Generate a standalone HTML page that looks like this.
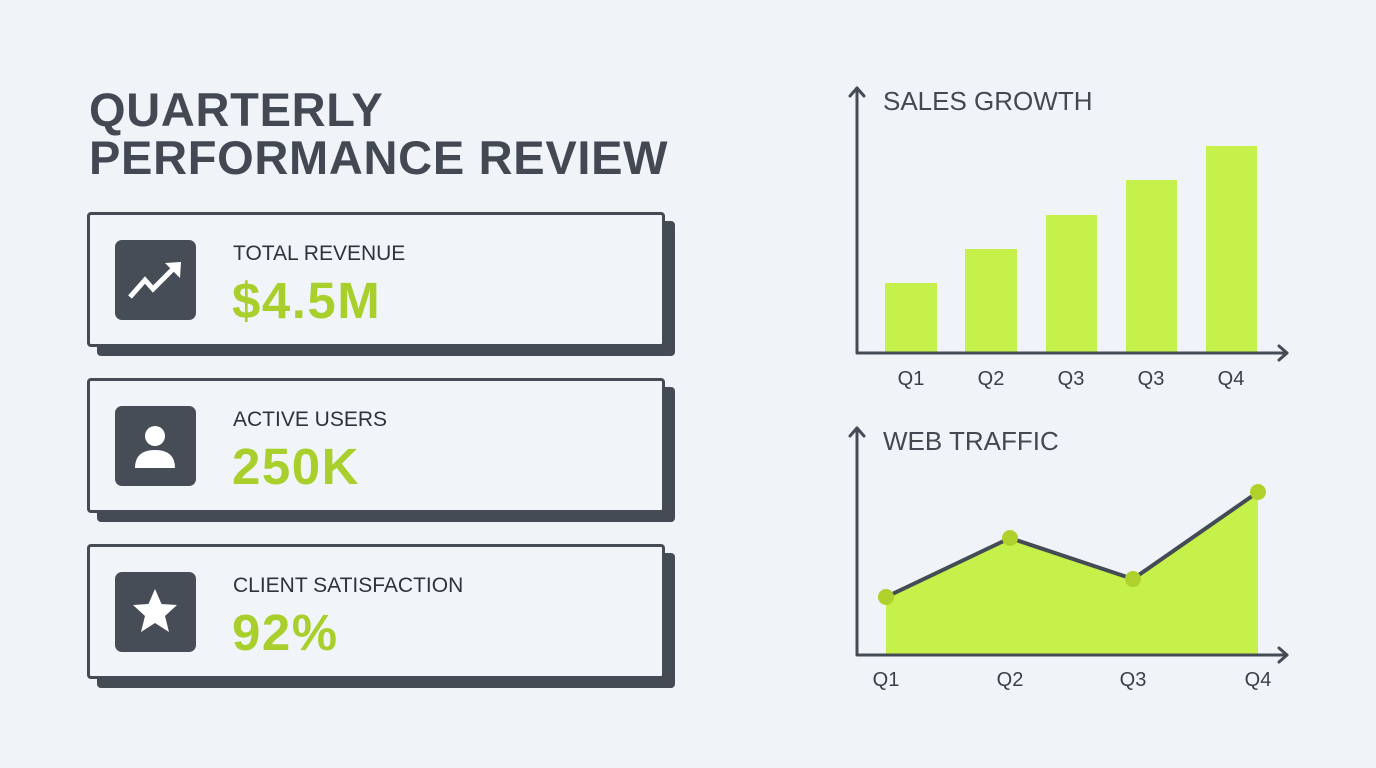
<!DOCTYPE html>
<html><head><meta charset="utf-8"><style>
body{margin:0;width:1376px;height:768px;background:#f0f4f9;font-family:"Liberation Sans",sans-serif;overflow:hidden;position:relative}
.t{position:absolute;left:89px;font-weight:bold;font-size:47px;color:#434953;line-height:1;letter-spacing:0.7px}
.sh{position:absolute;left:97px;width:578px;height:135px;background:#454b55;border-radius:4px}
.card{position:absolute;left:87px;width:572px;height:129px;border:3px solid #454b55;border-radius:4px;background:#f1f5f9}
.ic{position:absolute;left:25px;top:25px;width:81px;height:80px;background:#474d57;border-radius:7px}
.lb{position:absolute;left:143px;top:27px;font-size:21px;color:#2e333a}
.v{position:absolute;left:142px;top:56px;font-size:51px;font-weight:bold;color:#a9cf2c;letter-spacing:1.5px}
</style></head><body>
<div class="t" style="top:86px">QUARTERLY</div>
<div class="t" style="top:134px">PERFORMANCE REVIEW</div>

<div class="sh" style="top:221px"></div>
<div class="card" style="top:212px"><div class="ic"><svg width="81" height="80"><polyline points="15,57 30,40 38,49 60,27" fill="none" stroke="#fff" stroke-width="5" stroke-linejoin="miter"/><polygon points="50,23 66,22 65,38" fill="#fff"/></svg></div><div class="lb">TOTAL REVENUE</div><div class="v">$4.5M</div></div>

<div class="sh" style="top:387px"></div>
<div class="card" style="top:378px"><div class="ic"><svg width="81" height="80"><circle cx="40" cy="30" r="10" fill="#fff"/><path d="M20,62 Q20,44 40,44 Q60,44 60,62 Z" fill="#fff"/></svg></div><div class="lb">ACTIVE USERS</div><div class="v">250K</div></div>

<div class="sh" style="top:553px"></div>
<div class="card" style="top:544px"><div class="ic"><svg width="81" height="80"><polygon points="40,17 46.5,32 62,33 50,44 54,60 40,51 26,60 30,44 18,33 33.5,32" fill="#fff"/></svg></div><div class="lb">CLIENT SATISFACTION</div><div class="v">92%</div></div>

<svg style="position:absolute;left:0;top:0" width="1376" height="768" font-family="Liberation Sans, sans-serif">
<g fill="#c6f14b">
<rect x="885" y="283" width="52" height="70"/><rect x="965" y="249" width="52" height="104"/><rect x="1046" y="215" width="51" height="138"/><rect x="1126" y="180" width="51" height="173"/><rect x="1206" y="146" width="51" height="207"/>
<polygon points="886,597 1010,538 1133,579 1258,492 1258,655 886,655"/>
</g>
<g stroke="#454b55" stroke-width="3" fill="none" stroke-linecap="round" stroke-linejoin="round">
<polyline points="857,88 857,353 1287,353"/><polyline points="850,96 857,88 864,96"/><polyline points="1279,346 1287,353 1279,360"/>
<polyline points="857,428 857,655 1287,655"/><polyline points="850,436 857,428 864,436"/><polyline points="1279,648 1287,655 1279,662"/>
<polyline points="886,597 1010,538 1133,579 1258,492" stroke-width="4"/>
</g>
<g fill="#aed12b"><circle cx="886" cy="597" r="8"/><circle cx="1010" cy="538" r="8"/><circle cx="1133" cy="579" r="8"/><circle cx="1258" cy="492" r="8"/></g>
<g fill="#434953" font-size="26"><text x="883" y="110">SALES GROWTH</text><text x="883" y="450">WEB TRAFFIC</text></g>
<g fill="#3a3f47" font-size="20" text-anchor="middle">
<text x="911" y="385">Q1</text><text x="991" y="385">Q2</text><text x="1071" y="385">Q3</text><text x="1151" y="385">Q3</text><text x="1231" y="385">Q4</text>
<text x="886" y="686">Q1</text><text x="1010" y="686">Q2</text><text x="1133" y="686">Q3</text><text x="1258" y="686">Q4</text>
</g>
</svg>
</body></html>
